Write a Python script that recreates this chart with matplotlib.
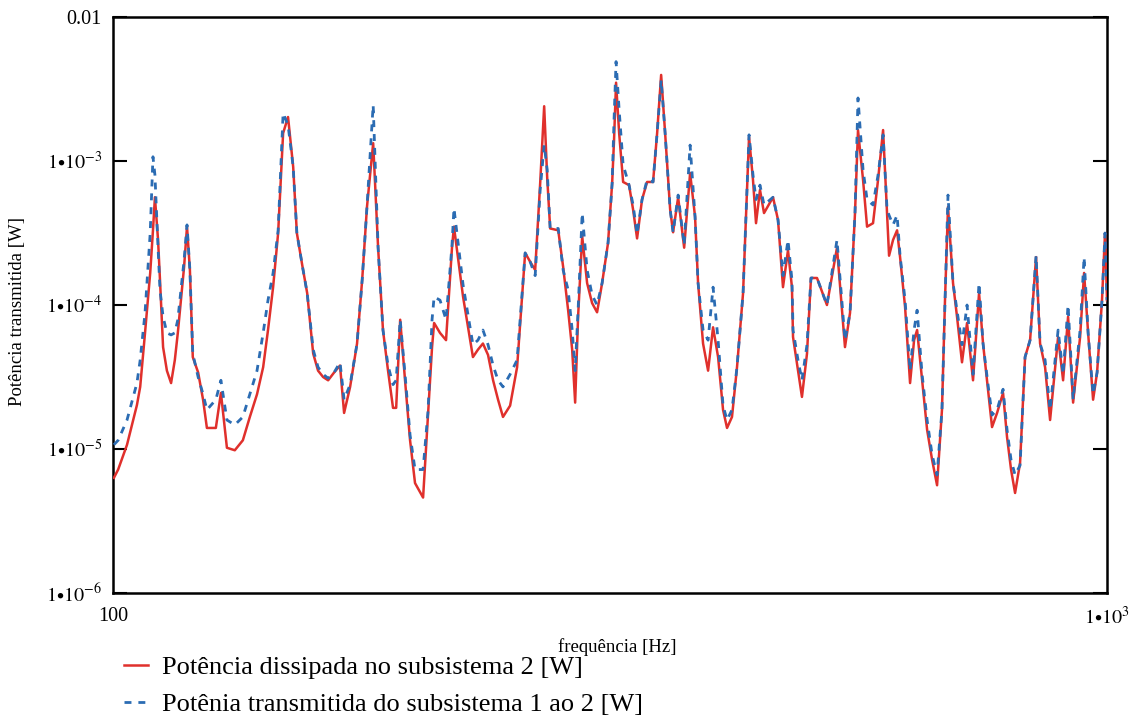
import matplotlib
matplotlib.use("Agg")
import matplotlib.pyplot as plt
import numpy as np

plt.rcParams['font.family'] = ['Liberation Serif', 'DejaVu Serif']
plt.rcParams['mathtext.fontset'] = 'stix'

# frequency grid [Hz]
freq = [100.2, 101.2, 103.3, 105.7, 106.5, 107.7, 109.0, 109.7, 110.2, 111.0,
        111.5, 112.3, 113.3, 114.4, 115.4, 116.2, 117.9, 118.7, 119.5, 120.3,
        121.8, 123.2, 124.3, 126.9, 128.4, 130.2, 132.6, 135.1, 137.3, 139.6,
        141.6, 143.2, 144.9, 146.6, 148.3, 150.0, 151.8, 153.1, 155.0, 156.8,
        159.0, 160.8, 162.7, 164.6, 166.9, 169.2, 170.8, 173.2, 176.0, 178.1,
        180.1, 182.7, 184.8, 186.9, 189.1, 191.3, 192.7, 194.5, 196.7, 199.0,
        201.3, 205.1, 207.5, 209.4, 210.4, 213.3, 216.3, 219.3, 220.3, 225.0,
        230.2, 232.9, 235.6, 238.4, 241.2, 244.0, 246.8, 250.9, 255.0, 259.8,
        262.8, 265.9, 269.0, 271.5, 273.4, 275.3, 280.5, 283.7, 287.0, 289.7,
        291.7, 293.7, 296.5, 299.9, 303.4, 306.9, 310.5, 314.8, 317.8, 319.2,
        320.7, 323.0, 326.0, 330.5, 333.6, 336.7, 340.6, 344.6, 349.4, 352.7,
        356.0, 359.3, 363.5, 366.0, 370.3, 375.5, 380.7, 385.1, 387.8, 392.3,
        396.9, 401.5, 406.2, 410.9, 414.7, 419.5, 424.4, 430.4, 436.4, 440.4,
        443.5, 447.6, 451.8, 461.3, 466.7, 472.1, 477.6, 482.0, 483.2, 488.8,
        493.3, 499.1, 503.7, 510.8, 522.7, 535.0, 545.0, 551.4, 557.8, 561.7,
        568.3, 573.6, 581.6, 588.4, 595.3, 600.8, 603.6, 609.2, 614.9, 619.2,
        626.4, 633.7, 639.6, 644.1, 651.6, 659.2, 666.9, 674.6, 682.3, 687.1,
        691.9, 700.0, 706.5, 714.7, 723.1, 733.2, 743.5, 750.4, 759.1, 766.2,
        775.2, 786.0, 793.3, 800.7, 808.2, 817.6, 827.1, 836.8, 848.5, 856.4,
        866.4, 876.5, 892.9, 903.3, 913.8, 924.5, 939.6, 948.3, 957.2, 968.3,
        977.3, 988.5, 995.4, 1000.0]

# power dissipated in subsystem 2 [W]
p_dissipada = [6.3e-6, 7.2e-6, 1.07e-5, 2.02e-5, 2.7e-5, 6.4e-5, 1.67e-4, 3.3e-4, 5.6e-4, 2.83e-4,
               1.49e-4, 5.1e-5, 3.5e-5, 2.87e-5, 4.15e-5, 6.4e-5, 1.84e-4, 3.5e-4, 1.75e-4, 4.35e-5,
               3.4e-5, 2.2e-5, 1.4e-5, 1.4e-5, 2.45e-5, 1.02e-5, 9.8e-6, 1.15e-5, 1.67e-5, 2.4e-5,
               3.7e-5, 6.7e-5, 1.33e-4, 3.16e-4, 1.56e-3, 2.02e-3, 9.1e-4, 3.16e-4, 1.9e-4, 1.21e-4,
               4.6e-5, 3.5e-5, 3.16e-5, 3.0e-5, 3.4e-5, 3.8e-5, 1.78e-5, 2.7e-5, 5.4e-5, 1.49e-4,
               4.8e-4, 1.33e-3, 2.5e-4, 6.7e-5, 3.5e-5, 1.93e-5, 1.93e-5, 7.9e-5, 3.0e-5, 1.15e-5,
               5.8e-6, 4.6e-6, 1.78e-5, 5.1e-5, 7.5e-5, 6.4e-5, 5.7e-5, 2.5e-4, 3.5e-4, 1.14e-4,
               4.35e-5, 4.9e-5, 5.4e-5, 4.5e-5, 3.0e-5, 2.2e-5, 1.67e-5, 2.0e-5, 3.7e-5, 2.3e-4,
               2.0e-4, 1.75e-4, 7.0e-4, 2.4e-3, 7.7e-4, 3.4e-4, 3.3e-4, 1.84e-4, 9.2e-5, 4.9e-5,
               2.1e-5, 8.3e-5, 3.0e-4, 1.42e-4, 1.03e-4, 8.9e-5, 1.42e-4, 2.7e-4, 7.0e-4, 1.4e-3,
               3.5e-3, 1.56e-3, 7.15e-4, 6.8e-4, 4.6e-4, 2.9e-4, 5.4e-4, 7.15e-4, 7.15e-4, 1.56e-3,
               3.96e-3, 1.56e-3, 4.6e-4, 3.2e-4, 5.6e-4, 2.5e-4, 8.25e-4, 4.1e-4, 1.42e-4, 5.4e-5,
               3.5e-5, 7.0e-5, 4.35e-5, 1.87e-5, 1.4e-5, 1.67e-5, 3.7e-5, 1.21e-4, 1.47e-3, 7.4e-4,
               3.7e-4, 6.3e-4, 4.35e-4, 5.6e-4, 3.9e-4, 1.33e-4, 2.4e-4, 1.33e-4, 6.0e-5, 3.5e-5,
               2.3e-5, 4.6e-5, 1.54e-4, 1.54e-4, 1.0e-4, 2.5e-4, 5.1e-5, 8.8e-5, 4.35e-4, 1.64e-3,
               7.4e-4, 3.5e-4, 3.7e-4, 7.4e-4, 1.64e-3, 4.35e-4, 2.2e-4, 2.83e-4, 3.3e-4, 2.15e-4,
               9.7e-5, 2.87e-5, 5.7e-5, 6.7e-5, 3.0e-5, 1.36e-5, 8.4e-6, 5.6e-6, 1.87e-5, 1.08e-4,
               4.8e-4, 1.42e-4, 8.3e-5, 4.0e-5, 7.5e-5, 3.0e-5, 1.21e-4, 5.4e-5, 2.6e-5, 1.42e-5,
               1.78e-5, 2.45e-5, 1.21e-5, 7.2e-6, 4.95e-6, 8.0e-6, 4.35e-5, 5.7e-5, 2.15e-4, 5.4e-5,
               3.7e-5, 1.59e-5, 6.0e-5, 3.0e-5, 8.3e-5, 2.1e-5, 6.0e-5, 1.67e-4, 6.4e-5, 2.2e-5,
               3.4e-5, 1.08e-4, 3.16e-4, 1.08e-4]

# power transmitted from subsystem 1 to 2 [W]
p_transmitida = [1.07e-5, 1.15e-5, 1.59e-5, 2.87e-5, 4.15e-5, 8.8e-5, 3.16e-4, 1.07e-3, 8.0e-4, 2.5e-4,
                 1.27e-4, 8.3e-5, 6.4e-5, 6.2e-5, 6.4e-5, 7.9e-5, 2.05e-4, 3.6e-4, 1.75e-4, 4.6e-5,
                 3.16e-5, 2.4e-5, 1.87e-5, 2.2e-5, 3.0e-5, 1.59e-5, 1.47e-5, 1.67e-5, 2.4e-5, 3.5e-5,
                 6.4e-5, 1.08e-4, 1.67e-4, 3.3e-4, 2.15e-3, 1.78e-3, 9.1e-4, 3.16e-4, 1.9e-4, 1.21e-4,
                 4.9e-5, 3.7e-5, 3.3e-5, 3.1e-5, 3.4e-5, 4.0e-5, 2.2e-5, 2.8e-5, 5.4e-5, 1.49e-4,
                 4.8e-4, 2.45e-3, 2.5e-4, 6.7e-5, 3.8e-5, 2.8e-5, 3.0e-5, 7.9e-5, 3.3e-5, 1.25e-5,
                 7.2e-6, 7.2e-6, 1.87e-5, 7.9e-5, 1.14e-4, 1.08e-4, 7.9e-5, 2.6e-4, 4.7e-4, 1.38e-4,
                 5.3e-5, 5.7e-5, 6.7e-5, 5.3e-5, 3.8e-5, 3.0e-5, 2.7e-5, 3.3e-5, 4.15e-5, 2.3e-4,
                 2.0e-4, 1.6e-4, 6.3e-4, 1.29e-3, 8.7e-4, 3.4e-4, 3.4e-4, 1.75e-4, 1.27e-4, 6.7e-5,
                 3.5e-5, 9.2e-5, 4.35e-4, 1.75e-4, 1.17e-4, 1.0e-4, 1.42e-4, 2.7e-4, 7.0e-4, 1.93e-3,
                 4.9e-3, 2.26e-3, 9.4e-4, 6.8e-4, 4.95e-4, 3.1e-4, 5.4e-4, 7.4e-4, 7.15e-4, 1.56e-3,
                 3.65e-3, 1.56e-3, 4.6e-4, 3.2e-4, 5.8e-4, 2.6e-4, 1.29e-3, 4.1e-4, 1.42e-4, 6.7e-5,
                 5.7e-5, 1.33e-4, 5.7e-5, 2.0e-5, 1.59e-5, 1.87e-5, 3.7e-5, 1.21e-4, 1.52e-3, 8.0e-4,
                 5.4e-4, 6.8e-4, 4.95e-4, 5.6e-4, 3.9e-4, 1.6e-4, 2.83e-4, 1.49e-4, 6.7e-5, 4.15e-5,
                 3.0e-5, 5.3e-5, 1.54e-4, 1.54e-4, 1.0e-4, 2.83e-4, 5.7e-5, 8.8e-5, 4.35e-4, 2.74e-3,
                 8.7e-4, 5.4e-4, 4.95e-4, 8.0e-4, 1.52e-3, 4.6e-4, 4.2e-4, 3.6e-4, 4.2e-4, 2.2e-4,
                 1.08e-4, 3.5e-5, 6.7e-5, 9.2e-5, 3.3e-5, 1.59e-5, 9.1e-6, 6.6e-6, 1.87e-5, 1.08e-4,
                 5.8e-4, 1.42e-4, 9.2e-5, 5.3e-5, 1.0e-4, 3.3e-5, 1.42e-4, 5.4e-5, 2.8e-5, 1.72e-5,
                 1.87e-5, 2.6e-5, 1.36e-5, 8.4e-6, 6.6e-6, 7.7e-6, 4.35e-5, 5.7e-5, 2.2e-4, 5.4e-5,
                 4.15e-5, 1.87e-5, 6.7e-5, 3.3e-5, 1.0e-4, 2.2e-5, 6.7e-5, 2.15e-4, 6.4e-5, 2.4e-5,
                 3.4e-5, 1.08e-4, 3.16e-4, 1.08e-4]

fig = plt.figure(figsize=(11.36, 7.22), dpi=100)
ax = fig.add_axes([113/1136, 1-593/722, 994/1136, 576/722])

ax.plot(freq, p_dissipada, color='#e0302c', lw=1.8,
        label='Potência dissipada no subsistema 2 [W]', zorder=3)
ax.plot(freq, p_transmitida, color='#2b6cb3', lw=2.0, ls=(0, (2.5, 2.5)),
        label='Potênia transmitida do subsistema 1 ao 2 [W]', zorder=4)

ax.set_xscale('log')
ax.set_yscale('log')
ax.set_xlim(100, 1000)
ax.set_ylim(1e-6, 1e-2)
ax.minorticks_off()

ax.set_xticks([100, 1000])
ax.set_xticklabels(['100', r'$1{\bullet}10^{3}$'])
ax.set_yticks([1e-6, 1e-5, 1e-4, 1e-3, 1e-2])
ax.set_yticklabels([r'$1{\bullet}10^{-6}$', r'$1{\bullet}10^{-5}$',
                    r'$1{\bullet}10^{-4}$', r'$1{\bullet}10^{-3}$', '0.01'])
ax.tick_params(axis='y', direction='in', length=10, width=1.5,
               left=True, right=True, labelsize=14.5, pad=8)
ax.tick_params(axis='x', length=0, labelsize=14.5, pad=10)

for s in ax.spines.values():
    s.set_linewidth(1.8)

fig.text(18/1136, 1-312/722, 'Potência transmitida [W]', rotation=90,
         ha='center', va='center', fontsize=13.5)
fig.text(617/1136, 1-647/722, 'frequência [Hz]', ha='center', va='center',
         fontsize=13.5)

fig.legend(loc='lower left', bbox_to_anchor=(108/1136, -0.014), frameon=False,
           fontsize=19, handlelength=0.9, handletextpad=0.55, labelspacing=0.52,
           borderaxespad=0.2)

fig.savefig('out.png', dpi=100)
